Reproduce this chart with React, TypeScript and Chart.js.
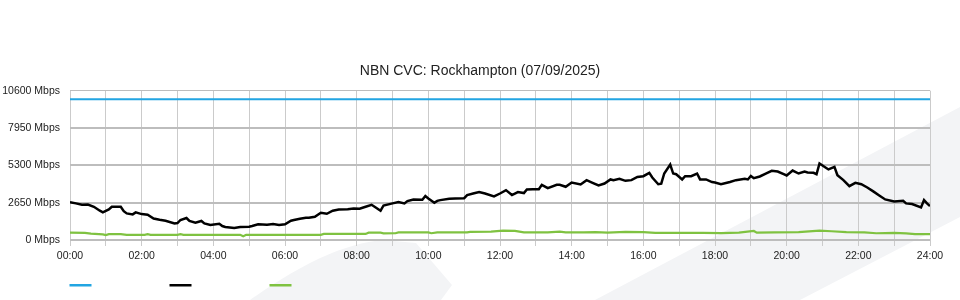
import React, { useEffect, useRef } from "react";
import { Chart, registerables } from "chart.js";

Chart.register(...registerables);

const TITLE = "NBN CVC: Rockhampton (07/09/2025)";
const Y_MAX = 10600;
const Y_STEP = 2650;
const UNIT = " Mbps";

// capacity (blue)
const capMinutes = [0, 1440];
const capMbps = [10000, 10000];

// traffic (black)
const trafficMinutes = [
  0, 10, 20, 30, 40, 50, 55, 65, 70, 85,
  90, 95, 105, 110, 120, 130, 140, 150, 160, 175,
  180, 185, 195, 200, 210, 220, 225, 235, 250, 255,
  260, 275, 285, 300, 305, 315, 330, 340, 350, 360,
  370, 375, 385, 395, 400, 410, 420, 430, 440, 450,
  465, 475, 485, 495, 505, 510, 520, 525, 540, 550,
  560, 565, 575, 590, 595, 600, 610, 615, 620, 635,
  645, 660, 665, 675, 685, 695, 710, 720, 730, 740,
  750, 760, 765, 775, 785, 790, 800, 815, 820, 830,
  840, 855, 865, 875, 885, 895, 905, 910, 920, 930,
  940, 950, 960, 970, 975, 985, 990, 995, 1005, 1010,
  1015, 1025, 1030, 1040, 1050, 1055, 1065, 1075, 1080, 1090,
  1105, 1115, 1130, 1135, 1140, 1145, 1155, 1165, 1175, 1185,
  1195, 1200, 1210, 1220, 1230, 1235, 1245, 1250, 1255, 1265,
  1270, 1280, 1285, 1295, 1305, 1315, 1325, 1335, 1345, 1355,
  1365, 1380, 1395, 1400, 1410, 1425, 1430, 1435, 1440,
];
const trafficMbps = [
  2690, 2600, 2500, 2520, 2360, 2080, 1960, 2170, 2360, 2360,
  2050, 1890, 1820, 1960, 1840, 1800, 1530, 1440, 1370, 1180,
  1200, 1420, 1560, 1350, 1230, 1350, 1180, 1060, 1150, 990,
  920, 850, 920, 940, 990, 1110, 1090, 1130, 1060, 1120,
  1370, 1420, 1510, 1580, 1580, 1650, 1930, 1860, 2080, 2170,
  2190, 2240, 2220, 2360, 2500, 2360, 2080, 2450, 2600, 2690,
  2600, 2760, 2880, 2860, 3120, 2950, 2640, 2780, 2830, 2930,
  2950, 2970, 3190, 3300, 3400, 3300, 3090, 3300, 3540, 3190,
  3400, 3330, 3590, 3610, 3610, 3920, 3680, 3920, 3920, 3780,
  4080, 3940, 4250, 4060, 3870, 4010, 4300, 4250, 4340, 4200,
  4250, 4480, 4530, 4770, 4440, 3960, 4000, 4720, 5360, 4720,
  4670, 4300, 4530, 4530, 4720, 4300, 4300, 4110, 4080, 3960,
  4120, 4250, 4340, 4300, 4550, 4390, 4510, 4720, 4910, 4860,
  4670, 4580, 4930, 4720, 4860, 4800, 4770, 4670, 5430, 5150,
  5010, 5190, 4600, 4250, 3820, 4060, 3960, 3730, 3450, 3160,
  2880, 2740, 2790, 2600, 2550, 2310, 2830, 2600, 2410,
];

// upload (green)
const uploadMinutes = [
  0, 25, 35, 55, 60, 65, 85, 95, 125, 130,
  135, 180, 185, 190, 285, 290, 295, 420, 425, 495,
  500, 520, 525, 545, 550, 600, 605, 615, 665, 670,
  705, 725, 745, 760, 800, 820, 830, 860, 880, 900,
  930, 960, 980, 1020, 1060, 1090, 1120, 1145, 1150, 1180,
  1220, 1255, 1275, 1300, 1330, 1350, 1380, 1400, 1415, 1440,
];
const uploadMbps = [
  520, 510, 450, 400, 350, 420, 420, 370, 370, 410,
  370, 370, 420, 370, 370, 270, 370, 370, 430, 430,
  520, 520, 470, 480, 540, 540, 480, 540, 540, 570,
  590, 660, 650, 540, 540, 600, 540, 540, 560, 530,
  570, 560, 500, 500, 500, 490, 520, 640, 520, 540,
  560, 660, 620, 560, 540, 480, 500, 470, 420, 420,
];

const FONT = "'Liberation Sans', Arial, sans-serif";

const pts = (xs: number[], ys: number[]) => xs.map((x, i) => ({ x, y: ys[i] }));
const hh = (m: number) => String(Math.round(m / 60)).padStart(2, "0") + ":00";

const bgSvg =
  "<svg xmlns='http://www.w3.org/2000/svg' width='960' height='300'>" +
  "<path d='M250 300 C290 272 335 245 382 240 L416 243 L452 285 L441 300 Z' fill='%23f3f4f6'/>" +
  "<path d='M595 300 L960 107 L960 217 L800 300 Z' fill='%23f3f4f6'/>" +
  "</svg>";

const legendLines = {
  id: "legendLines",
  afterDraw(chart: any) {
    const ctx = chart.ctx;
    chart.data.datasets.forEach((ds: any, i: number) => {
      ctx.save();
      ctx.fillStyle = ds.borderColor;
      ctx.fillRect(chart.chartArea.left - 0.5 + i * 100, 284, 22, 2.5);
      ctx.restore();
    });
  },
};

export default function App() {
  const ref = useRef<HTMLCanvasElement | null>(null);

  useEffect(() => {
    if (!ref.current) return;
    Chart.defaults.font.family = FONT;
    const chart = new Chart(ref.current, {
      type: "line",
      data: {
        datasets: [
          {
            label: "",
            data: pts(capMinutes, capMbps),
            borderColor: "#22a5e2",
            backgroundColor: "#22a5e2",
            borderWidth: 2,
            pointRadius: 0,
            tension: 0,
          },
          {
            label: "",
            data: pts(trafficMinutes, trafficMbps),
            borderColor: "#000000",
            backgroundColor: "#000000",
            borderWidth: 2.5,
            pointRadius: 0,
            tension: 0,
          },
          {
            label: "",
            data: pts(uploadMinutes, uploadMbps),
            borderColor: "#7fc241",
            backgroundColor: "#7fc241",
            borderWidth: 2.2,
            pointRadius: 0,
            tension: 0,
          },
        ],
      },
      options: {
        responsive: false,
        devicePixelRatio: 1,
        animation: false,
        events: [],
        layout: { padding: 0 },
        plugins: {
          legend: { display: false },
          tooltip: { enabled: false },
          title: {
            display: true,
            text: TITLE,
            color: "#222",
            font: { family: FONT, size: 14, weight: "normal" },
            padding: { top: 62.5, bottom: 11.4 },
          },
        },
        scales: {
          x: {
            type: "linear",
            min: 0,
            max: 1440,
            afterFit: (s: any) => {
              s.height = 60;
            },
            border: { display: false },
            grid: { color: "#cbcbcb", lineWidth: 1, drawTicks: true, tickLength: 6 },
            ticks: {
              stepSize: 60,
              maxTicksLimit: 30,
              autoSkip: false,
              maxRotation: 0,
              minRotation: 0,
              padding: 4,
              color: "#222",
              font: { family: FONT, size: 10.5 },
              callback: (v: any) => (Number(v) % 120 === 0 ? hh(Number(v)) : ""),
            },
          },
          y: {
            min: 0,
            max: Y_MAX,
            afterFit: (s: any) => {
              s.width = 70;
            },
            border: { display: false },
            grid: {
              color: "#bdbdbd",
              drawTicks: false,
              lineWidth: (c: any) => (c.tick && c.tick.value === Y_MAX ? 1 : 2),
            },
            ticks: {
              stepSize: Y_STEP,
              maxTicksLimit: 10,
              padding: 10,
              color: "#222",
              font: { family: FONT, size: 10.5 },
              callback: (v: any) => v + UNIT,
            },
          },
          yRight: {
            position: "right",
            min: 0,
            max: Y_MAX,
            afterFit: (s: any) => {
              s.width = 30;
            },
            border: { display: false },
            grid: { display: false },
            ticks: { display: false },
          },
        },
      },
      plugins: [legendLines],
    } as any);
    return () => chart.destroy();
  }, []);

  return (
    <div
      style={{
        position: "relative",
        width: 960,
        height: 300,
        background: "#ffffff",
        backgroundImage: `url("data:image/svg+xml;utf8,${bgSvg}")`,
        backgroundRepeat: "no-repeat",
      }}
    >
      <style>{"body{margin:0}"}</style>
      <canvas ref={ref} width={960} height={300} style={{ display: "block" }} />
    </div>
  );
}
